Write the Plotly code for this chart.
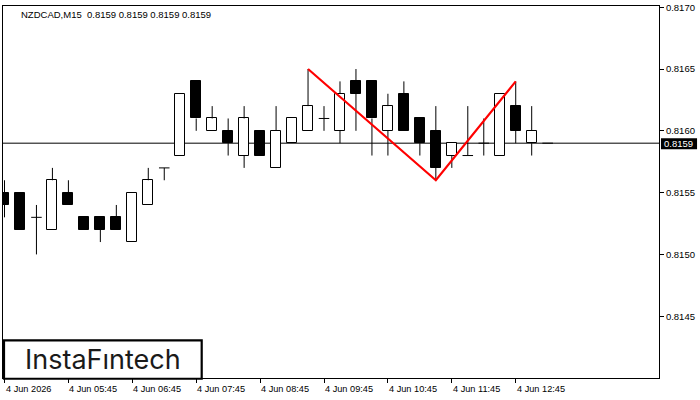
import plotly.graph_objects as go

# ---- data (NZDCAD M15, bar index 0 = 4 Jun 04:45) ----
opens  = [0.8155, 0.8155, 0.8153, 0.8152, 0.8155, 0.8153, 0.8153, 0.8153, 0.8151, 0.8154,
          0.8157, 0.8158, 0.8164, 0.8160, 0.8160, 0.8158, 0.8160, 0.8157, 0.8159, 0.8160,
          0.8161, 0.8160, 0.8164, 0.8164, 0.8160, 0.8163, 0.8161, 0.8160, 0.8158, 0.8158,
          0.8159, 0.8158, 0.8162, 0.8159, 0.8159]
highs  = [0.8156, 0.8155, 0.8154, 0.8157, 0.8156, 0.8153, 0.8153, 0.8154, 0.8155, 0.8157,
          0.8157, 0.8163, 0.8164, 0.8162, 0.8161, 0.8162, 0.8160, 0.8162, 0.8161, 0.8165,
          0.8162, 0.8164, 0.8165, 0.8164, 0.8163, 0.8164, 0.8161, 0.8162, 0.8159, 0.8162,
          0.8161, 0.8163, 0.8164, 0.8162, 0.8159]
lows   = [0.8153, 0.8152, 0.8150, 0.8152, 0.8154, 0.8152, 0.8151, 0.8152, 0.8151, 0.8154,
          0.8156, 0.8158, 0.8160, 0.8160, 0.8158, 0.8157, 0.8158, 0.8157, 0.8159, 0.8160,
          0.8160, 0.8159, 0.8160, 0.8158, 0.8158, 0.8160, 0.8158, 0.8156, 0.8157, 0.8158,
          0.8158, 0.8158, 0.8159, 0.8158, 0.8159]
closes = [0.8154, 0.8152, 0.8153, 0.8156, 0.8154, 0.8152, 0.8152, 0.8152, 0.8155, 0.8156,
          0.8157, 0.8163, 0.8161, 0.8161, 0.8159, 0.8161, 0.8158, 0.8160, 0.8161, 0.8162,
          0.8161, 0.8163, 0.8163, 0.8161, 0.8162, 0.8160, 0.8159, 0.8157, 0.8159, 0.8158,
          0.8159, 0.8163, 0.8160, 0.8160, 0.8159]

last_price = 0.8159
title_text = "NZDCAD,M15  0.8159 0.8159 0.8159 0.8159"

x_tick_idx = [0, 4, 8, 12, 16, 20, 24, 28, 32]
x_tick_labels = ["4 Jun 2026", "4 Jun 05:45", "4 Jun 06:45", "4 Jun 07:45", "4 Jun 08:45",
                 "4 Jun 09:45", "4 Jun 10:45", "4 Jun 11:45", "4 Jun 12:45"]
y_tick_vals = [0.8145, 0.8150, 0.8155, 0.8160, 0.8165, 0.8170]
y_tick_labels = ["0.8145", "0.8150", "0.8155", "0.8160", "0.8165", "0.8170"]

pattern_idx = [19, 27, 32]
pattern_price = [0.8165, 0.8156, 0.8164]

# ---- build marks ----
n = len(opens)
xs = list(range(n))
BW = 0.625      # body width (bar units)
HW = 0.33       # half width of doji dash

wx, wy = [], []
wb_x, wb_base, wb_h = [], [], []
bb_x, bb_base, bb_h = [], [], []
for i in xs:
    o, h, l, c = opens[i], highs[i], lows[i], closes[i]
    top, bot = max(o, c), min(o, c)
    if abs(o - c) < 1e-9:
        wx += [i, i, None, i - HW, i + HW, None]
        wy += [l, h, None, o, o, None]
        continue
    if h > top + 1e-9:
        wx += [i, i, None]; wy += [top, h, None]
    if l < bot - 1e-9:
        wx += [i, i, None]; wy += [l, bot, None]
    if c > o:
        wb_x.append(i); wb_base.append(bot); wb_h.append(top - bot)
    else:
        bb_x.append(i); bb_base.append(bot); bb_h.append(top - bot)

fig = go.Figure()
fig.add_trace(go.Bar(x=wb_x, y=wb_h, base=wb_base, width=BW,
                     marker=dict(color="white", line=dict(color="black", width=1))))
fig.add_trace(go.Bar(x=bb_x, y=bb_h, base=bb_base, width=BW,
                     marker=dict(color="black", line=dict(color="black", width=1))))
fig.add_trace(go.Scatter(x=wx, y=wy, mode="lines", line=dict(color="black", width=1),
                         hoverinfo="skip"))
fig.add_trace(go.Scatter(x=pattern_idx, y=pattern_price, mode="lines",
                         line=dict(color="#ff0000", width=2.2), hoverinfo="skip"))

FONT = "Liberation Sans"
L, R, T, B = 2, 41, 2, 22
PW, PH = 700 - L - R, 400 - T - B

shapes = [
    # bid line
    dict(type="line", xref="paper", yref="y", x0=0, x1=1, y0=last_price, y1=last_price,
         line=dict(color="black", width=1), layer="below"),
    # price tag
    dict(type="rect", xref="paper", yref="y", x0=1.003, x1=1.058,
         ysizemode="pixel", yanchor=last_price, y0=-6, y1=5,
         fillcolor="black", line=dict(width=0)),
    # logo box
    dict(type="rect", xref="paper", yref="paper", x0=(3 - L) / PW, x1=(201 - L) / PW,
         y0=-0.002, y1=(378 - 340) / PH, fillcolor="white",
         line=dict(color="black", width=2.2)),
]

annotations = [
    dict(text=title_text, xref="paper", yref="paper", x=(18 - L) / PW, y=(378 - 11) / PH,
         xanchor="left", yanchor="middle", showarrow=False,
         font=dict(family=FONT, size=9.5, color="black")),
    dict(text="0.8159", xref="paper", yref="y", x=(678.5 - L) / PW, y=last_price,
         xanchor="center", yanchor="middle", showarrow=False,
         font=dict(family=FONT, size=9.5, color="white")),
    dict(text="InstaFıntech", xref="paper", yref="paper", x=(102 - L) / PW, y=(378 - 359) / PH,
         xanchor="center", yanchor="middle", showarrow=False,
         font=dict(family="Inter", size=27, color="#1a1a1a", weight=400)),
]
for xi, lab in zip(x_tick_idx, x_tick_labels):
    annotations.append(dict(text=lab, xref="x", yref="paper", x=xi, y=(378 - 389) / PH,
                            xanchor="left", yanchor="middle", xshift=-1, showarrow=False,
                            font=dict(family=FONT, size=9.2, color="black")))

fig.update_layout(
    width=700, height=400,
    margin=dict(l=L, r=R, t=T, b=B, pad=0),
    paper_bgcolor="white", plot_bgcolor="white",
    showlegend=False, barmode="overlay", bargap=0,
    shapes=shapes, annotations=annotations,
    xaxis=dict(range=[-0.09375, 40.96875], showgrid=False, zeroline=False,
               showline=True, mirror=True, linecolor="black", linewidth=1,
               tickmode="array", tickvals=x_tick_idx, showticklabels=False,
               ticks="outside", ticklen=4, tickcolor="black", tickwidth=1),
    yaxis=dict(range=[0.81400, 0.81701], side="right", showgrid=False, zeroline=False,
               showline=True, mirror=True, linecolor="black", linewidth=1,
               tickmode="array", tickvals=y_tick_vals, ticktext=y_tick_labels,
               ticks="outside", ticklen=4, tickcolor="black", tickwidth=1,
               ticklabeloverflow="allow",
               tickfont=dict(family=FONT, size=9.5, color="black")),
)

fig.write_html("out.html")
